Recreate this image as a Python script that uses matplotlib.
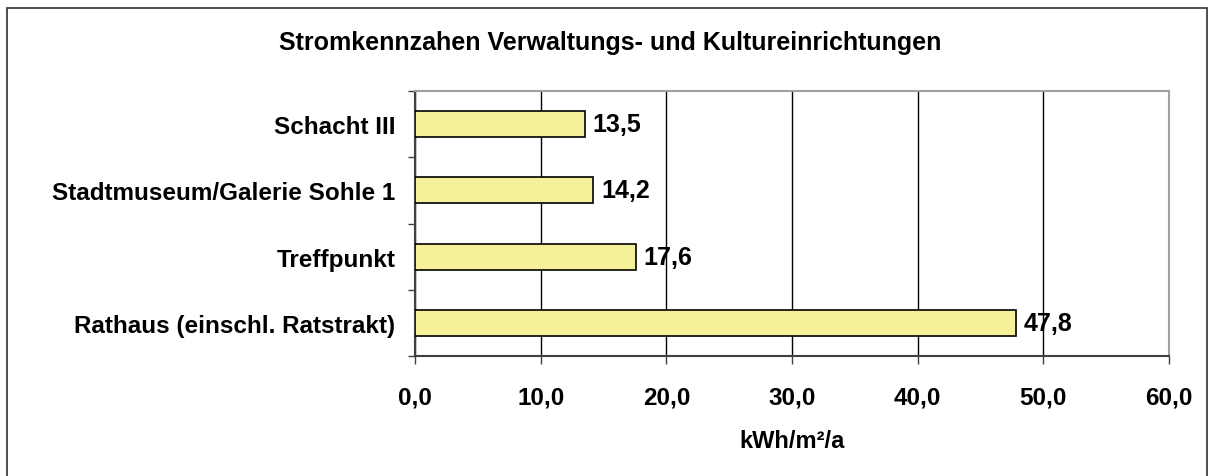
import matplotlib.pyplot as plt
from matplotlib.patches import Rectangle
import numpy as np

plt.rcParams['font.family'] = ['Liberation Sans', 'DejaVu Sans']

categories = ['Rathaus (einschl. Ratstrakt)', 'Treffpunkt',
              'Stadtmuseum/Galerie Sohle 1', 'Schacht III']
values = [47.8, 17.6, 14.2, 13.5]
xticks = [0, 10, 20, 30, 40, 50, 60]

W, H = 1214, 477
fig = plt.figure(figsize=(W / 100, H / 100), dpi=100)
ax = fig.add_axes([415 / W, 1 - 357 / H, (1169 - 415) / W, (357 - 92) / H])

y = np.arange(len(categories))
ax.barh(y, values, height=0.39, color='#f5f19b', edgecolor='black',
        linewidth=1.2, zorder=3)

for yi, v in zip(y, values):
    ax.text(v + 0.6, yi, f'{v:.1f}'.replace('.', ','), va='center', ha='left',
            fontsize=18, fontweight='bold', zorder=4)

ax.set_xlim(0, 60)
ax.set_ylim(-0.5, len(categories) - 0.5)
ax.set_xticks(xticks)
ax.set_xticklabels([f'{t:.1f}'.replace('.', ',') for t in xticks],
                   fontsize=17.5, fontweight='bold')
ax.xaxis.grid(True, color='black', linewidth=1, zorder=1)

# category labels at centres, tick marks at boundaries
ax.set_yticks(np.arange(-0.5, len(categories), 1.0))
ax.set_yticklabels([])
ax.set_yticks(y, minor=True)
ax.set_yticklabels(categories, minor=True, fontsize=17.5, fontweight='bold')
ax.tick_params(axis='y', which='minor', length=0, pad=14)
ax.tick_params(axis='y', which='major', length=5, width=1, color='#404040')
ax.tick_params(axis='x', length=6, width=1, color='#404040', pad=15)

for s in ['top', 'right']:
    ax.spines[s].set_color('#a0a0a0')
    ax.spines[s].set_linewidth(1.5)
for s in ['left', 'bottom']:
    ax.spines[s].set_color('#404040')
    ax.spines[s].set_linewidth(1.5)

ax.set_xlabel('kWh/m²/a', fontsize=17, fontweight='bold', labelpad=15)

fig.text(610 / W, 1 - 43 / H, 'Stromkennzahen Verwaltungs- und Kultureinrichtungen',
         ha='center', va='center', fontsize=18, fontweight='bold')

fig.patches.append(Rectangle((7 / W, -0.1), (1207 - 7) / W, 1 - 9 / H + 0.1,
                             transform=fig.transFigure, fill=False,
                             edgecolor='#303030', linewidth=1.2))

fig.savefig('out.png', dpi=100)
